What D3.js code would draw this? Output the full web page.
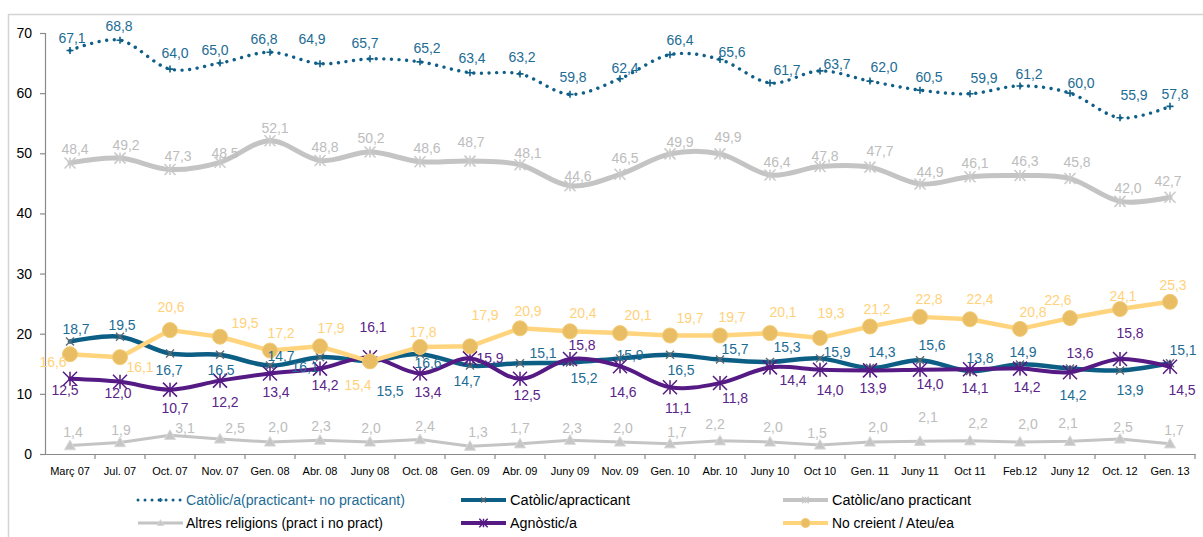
<!DOCTYPE html>
<html>
<head>
<meta charset="utf-8">
<script src="https://cdn.jsdelivr.net/npm/d3@7"></script>
<style>
  html, body { margin: 0; padding: 0; background: #ffffff; }
  svg { display: block; font-family: "Liberation Sans", Arial, sans-serif; }
</style>
</head>
<body>
<svg id="chart" width="1203" height="537"></svg>
<script>
// ---------------- DATA ----------------
const categories = ["Març 07", "Jul. 07", "Oct. 07", "Nov. 07", "Gen. 08", "Abr. 08", "Juny 08", "Oct. 08",
  "Gen. 09", "Abr. 09", "Juny 09", "Nov. 09", "Gen. 10", "Abr. 10", "Juny 10", "Oct 10", "Gen. 11",
  "Juny 11", "Oct 11", "Feb.12", "Juny 12", "Oct. 12", "Gen. 13"];

const catolicTotal = [67.1, 68.8, 64.0, 65.0, 66.8, 64.9, 65.7, 65.2, 63.4, 63.2, 59.8, 62.4, 66.4, 65.6,
  61.7, 63.7, 62.0, 60.5, 59.9, 61.2, 60.0, 55.9, 57.8];
const catolicPracticant = [18.7, 19.5, 16.7, 16.5, 14.7, 16.1, 15.5, 16.6, 14.7, 15.1, 15.2, 15.9, 16.5, 15.7,
  15.3, 15.9, 14.3, 15.6, 13.8, 14.9, 14.2, 13.9, 15.1];
const catolicNoPracticant = [48.4, 49.2, 47.3, 48.5, 52.1, 48.8, 50.2, 48.6, 48.7, 48.1, 44.6, 46.5, 49.9, 49.9,
  46.4, 47.8, 47.7, 44.9, 46.1, 46.3, 45.8, 42.0, 42.7];
const altresReligions = [1.4, 1.9, 3.1, 2.5, 2.0, 2.3, 2.0, 2.4, 1.3, 1.7, 2.3, 2.0, 1.7, 2.2, 2.0, 1.5, 2.0,
  2.1, 2.2, 2.0, 2.1, 2.5, 1.7];
const agnostic = [12.5, 12.0, 10.7, 12.2, 13.4, 14.2, 16.1, 13.4, 15.9, 12.5, 15.8, 14.6, 11.1, 11.8, 14.4,
  14.0, 13.9, 14.0, 14.1, 14.2, 13.6, 15.8, 14.5];
const noCreient = [16.6, 16.1, 20.6, 19.5, 17.2, 17.9, 15.4, 17.8, 17.9, 20.9, 20.4, 20.1, 19.7, 19.7, 20.1,
  19.3, 21.2, 22.8, 22.4, 20.8, 22.6, 24.1, 25.3];

const seriesNames = ["Catòlic/a(practicant+ no practicant)", "Catòlic/apracticant", "Catòlic/ano practicant",
  "Altres religions (pract i no pract)", "Agnòstic/a", "No creient / Ateu/ea"];
const yTicks = [0, 10, 20, 30, 40, 50, 60, 70];

// ---------------- STYLE (label nudges, pixels) ----------------
const offTotal = [[2,-12],[-1,-14],[5,-16],[-5,-13],[-6,-13],[-8,-25],[-5,-16],[7,-14],[2,-15],[2,-17],[3,-17],[5,-11],[10,-15],[12,-7],[17,-13],[17,-7],[14,-14],[9,-13],[14,-16],[9,-12],[11,-10],[14,-23],[5,-12]];
const offPract = [[6,-12],[2,-12],[-1,17],[1,15],[11,-9],[-15,10],[20,30],[8,9],[-3,16],[23,-10],[14,16],[10,-3],[11,15],[15,-10],[17,-15],[17,-6],[12,-16],[12,-15],[10,-13],[3,-12],[3,27],[10,20],[13,-13]];
const offNoPract = [[5,-14],[6,-13],[8,-13],[5,-9],[5,-13],[5,-13],[1,-14],[7,-14],[1,-19],[8,-12],[8,-10],[5,-16],[10,-12],[8,-17],[7,-13],[5,-10],[10,-16],[10,-12],[5,-14],[5,-14],[7,-16],[8,-13],[-2,-16]];
const offAltres = [[3,-13],[1,-12],[15,-7],[15,-11],[8,-15],[1,-14],[1,-14],[5,-13],[8,-14],[0,-16],[2,-12],[3,-14],[7,-12],[-5,-17],[3,-15],[-3,-12],[8,-15],[8,-24],[8,-18],[8,-18],[-2,-18],[3,-12],[4,-14]];
const offAgn = [[-5,11],[-2,11],[5,18],[5,21],[6,19],[5,17],[3,-30],[8,19],[20,0],[7,16],[12,-14],[3,26],[8,21],[15,15],[23,13],[10,20],[3,18],[10,14],[5,19],[7,19],[10,-19],[10,-26],[12,23]];
const offCreient = [[-17,8],[20,10],[1,-23],[25,-14],[11,-17],[11,-18],[-12,24],[3,-15],[15,-31],[8,-17],[13,-18],[18,-18],[20,-17],[12,-18],[13,-21],[11,-25],[7,-17],[9,-18],[10,-20],[13,-17],[-12,-18],[3,-13],[3,-17]];

const series = [
  { name: seriesNames[0], values: catolicTotal, off: offTotal, color: "#0f5f88", labelColor: "#1d6c94",
    width: 3, dotted: true, smooth: true, marker: "plus", markerColor: "#0f5f88", markerSize: 7 },
  { name: seriesNames[2], values: catolicNoPracticant, off: offNoPract, color: "#c4c4c4", labelColor: "#bdbdbd",
    width: 5, smooth: true, marker: "asterisk", markerColor: "#c9c9c9", markerSize: 11 },
  { name: seriesNames[1], values: catolicPracticant, off: offPract, color: "#0d5e85", labelColor: "#1d6c94",
    width: 4.5, smooth: true, marker: "cross", markerColor: "#5d6a72", markerSize: 8 },
  { name: seriesNames[3], values: altresReligions, off: offAltres, color: "#c4c4c4", labelColor: "#bdbdbd",
    width: 3, smooth: false, marker: "triangle", markerColor: "#c6c6c6", markerSize: 11 },
  { name: seriesNames[4], values: agnostic, off: offAgn, color: "#561a84", labelColor: "#5a2488",
    width: 4, smooth: true, marker: "asterisk", markerColor: "#561a84", markerSize: 14 },
  { name: seriesNames[5], values: noCreient, off: offCreient, color: "#ffd47c", labelColor: "#ffd27a",
    width: 4.5, smooth: false, marker: "circle", markerColor: "#e8bd64", markerSize: 15 }
];

// ---------------- LAYOUT ----------------
const svg = d3.select("#chart");
const x = d3.scaleBand().domain(categories).range([45, 1195]).paddingInner(0).paddingOuter(0);
const y = d3.scaleLinear().domain([0, 70]).range([454, 33]);
const cx = c => x(c) + x.bandwidth() / 2;

// frame
svg.append("rect").attr("x", 8.5).attr("y", 14.5).attr("width", 1210).attr("height", 540)
  .attr("fill", "none").attr("stroke", "#d4d4d4").attr("stroke-width", 1.5);

// Y axis
const yAxis = d3.axisLeft(y).tickValues(yTicks).tickSize(5).tickPadding(8).tickFormat(d3.format("d"));
const gy = svg.append("g").attr("transform", "translate(45,0)").call(yAxis);
gy.select(".domain").attr("stroke", "#8a8a8a").attr("stroke-width", 1.2);
gy.selectAll(".tick line").attr("stroke", "#8a8a8a").attr("stroke-width", 1.2);
gy.selectAll(".tick text").attr("fill", "#000").attr("font-size", 14).attr("font-family", "Liberation Sans, Arial, sans-serif");

// X axis
const xAxis = d3.axisBottom(x).tickSize(0).tickPadding(13);
const gx = svg.append("g").attr("transform", "translate(0,454)").call(xAxis);
gx.select(".domain").attr("stroke", "#8a8a8a").attr("stroke-width", 1.2);
gx.selectAll(".tick text").attr("fill", "#000").attr("font-size", 11).attr("font-family", "Liberation Sans, Arial, sans-serif");
const boundaries = categories.map(c => x(c)).concat([x.range()[1]]);
gx.selectAll("line.bnd").data(boundaries.slice(1)).enter().append("line").attr("class", "bnd")
  .attr("x1", d => d).attr("x2", d => d).attr("y1", 0).attr("y2", 5)
  .attr("stroke", "#8a8a8a").attr("stroke-width", 1.2);

// marker drawing
function drawMarker(g, type, px, py, size, color) {
  const h = size / 2;
  if (type === "plus") {
    g.append("path").attr("d", `M${px - h},${py}H${px + h}M${px},${py - h}V${py + h}`)
      .attr("stroke", color).attr("stroke-width", 1.6).attr("fill", "none");
  } else if (type === "cross") {
    g.append("path").attr("d", `M${px - h},${py - h}L${px + h},${py + h}M${px - h},${py + h}L${px + h},${py - h}`)
      .attr("stroke", color).attr("stroke-width", 1.4).attr("fill", "none");
  } else if (type === "asterisk") {
    g.append("path").attr("d", `M${px - h},${py - h}L${px + h},${py + h}M${px - h},${py + h}L${px + h},${py - h}M${px},${py - h}V${py + h}`)
      .attr("stroke", color).attr("stroke-width", 1.5).attr("fill", "none");
  } else if (type === "triangle") {
    g.append("path").attr("d", `M${px},${py - h}L${px + h},${py + h * 0.75}L${px - h},${py + h * 0.75}Z`)
      .attr("fill", color).attr("stroke", "#d8d8d8").attr("stroke-width", 1);
  } else if (type === "circle") {
    g.append("circle").attr("cx", px).attr("cy", py).attr("r", h)
      .attr("fill", color).attr("stroke", "#f3cc76").attr("stroke-width", 1);
  }
}

// lines
const plot = svg.append("g");
series.forEach(s => {
  const pts = s.values.map((v, i) => [cx(categories[i]), y(v)]);
  const line = d3.line().curve(s.smooth ? d3.curveCardinal.tension(0) : d3.curveLinear);
  const p = plot.append("path").attr("d", line(pts)).attr("fill", "none")
    .attr("stroke", s.color).attr("stroke-width", s.width).attr("stroke-linejoin", "round");
  if (s.dotted) {
    p.attr("stroke-dasharray", "0.01,7.6").attr("stroke-linecap", "round").attr("stroke-width", 3.4);
  } else {
    p.attr("stroke-linecap", "round");
  }
  const mg = plot.append("g");
  pts.forEach(pt => drawMarker(mg, s.marker, pt[0], pt[1], s.markerSize, s.markerColor));
});

// labels
const fmt = v => d3.format(".1f")(v).replace(".", ",");
const labels = svg.append("g").attr("font-size", 14).attr("text-anchor", "middle");
series.forEach(s => {
  s.values.forEach((v, i) => {
    const px = cx(categories[i]) + s.off[i][0];
    const py = y(v) + s.off[i][1];
    labels.append("text").attr("x", px).attr("y", py).attr("dy", "0.35em")
      .attr("fill", s.labelColor).text(fmt(v));
  });
});

// legend
const byName = n => series.find(d => d.name === n);
const legendItems = [
  { s: byName(seriesNames[0]), col: 0, row: 0, textColor: "#1d6c94", len: 219 },
  { s: byName(seriesNames[1]), col: 1, row: 0, textColor: "#000", len: 120 },
  { s: byName(seriesNames[2]), col: 2, row: 0, textColor: "#000", len: 139 },
  { s: byName(seriesNames[3]), col: 0, row: 1, textColor: "#000", len: 197 },
  { s: byName(seriesNames[4]), col: 1, row: 1, textColor: "#000", len: 67 },
  { s: byName(seriesNames[5]), col: 2, row: 1, textColor: "#000", len: 122 }
];

const colX = [138, 461, 783];
const rowY = [500, 523];
const lg = svg.append("g");
legendItems.forEach(it => {
  const s = it.s;
  const x0 = colX[it.col], yy = rowY[it.row];
  const g = lg.append("g");
  const l = g.append("line").attr("x1", x0).attr("x2", x0 + 45).attr("y1", yy).attr("y2", yy)
    .attr("stroke", s.color).attr("stroke-width", Math.min(s.width, 4));
  if (s.dotted) {
    l.attr("stroke-dasharray", "0.01,7").attr("stroke-linecap", "round").attr("stroke-width", 3);
  }
  drawMarker(g, s.marker, x0 + 22.5, yy, s.markerSize * 0.6, s.markerColor);
  const tx = it.col === 0 ? x0 + 48 : x0 + 49;
  g.append("text").attr("x", tx).attr("y", yy).attr("dy", "0.35em")
    .attr("font-size", 14).attr("fill", it.textColor)
    .attr("textLength", it.len).attr("lengthAdjust", "spacingAndGlyphs")
    .text(s.name);
});
</script>
</body>
</html>
